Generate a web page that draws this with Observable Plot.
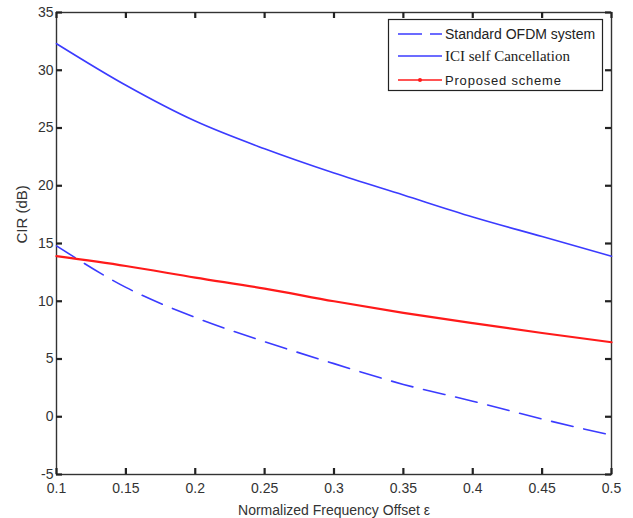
<!DOCTYPE html>
<html>
<head>
<meta charset="utf-8">
<script src="https://cdn.jsdelivr.net/npm/d3@7"></script>
<script src="https://cdn.jsdelivr.net/npm/@observablehq/plot@0.6"></script>
<style>
  body { margin: 0; background: #fff; }
  #wrap { position: relative; width: 633px; height: 518px; }
  #legend { position: absolute; left: 0; top: 0; }
</style>
</head>
<body>
<div id="wrap"></div>
<script>
// Data
const offsets = [0.1, 0.15, 0.2, 0.25, 0.3, 0.35, 0.4, 0.45, 0.5];
const standardOFDM = [14.8, 11.2, 8.6, 6.5, 4.6, 2.8, 1.35, -0.2, -1.6];
const iciSelfCancel = [32.3, 28.7, 25.6, 23.2, 21.1, 19.2, 17.3, 15.6, 13.9];
const proposed = [13.9, 13.05, 12.05, 11.1, 10.0, 9.0, 8.1, 7.25, 6.45];

const seriesNames = ["Standard OFDM system", "ICI self Cancellation", "Proposed scheme"];
const xTicks = [0.1, 0.15, 0.2, 0.25, 0.3, 0.35, 0.4, 0.45, 0.5];
const yTicks = [-5, 0, 5, 10, 15, 20, 25, 30, 35];
const xTickLabels = ["0.1", "0.15", "0.2", "0.25", "0.3", "0.35", "0.4", "0.45", "0.5"];
const xLabel = "Normalized Frequency Offset ε";
const yLabel = "CIR (dB)";

const blue = "#3b3bff";
const red = "#ff1a1a";

const rows = (ys) => offsets.map((x, i) => ({x, y: ys[i]}));

const font = "'Liberation Sans', Arial, sans-serif";

const W = 633, H = 518, mL = 56, mR = 22, mT = 12, mB = 44, tick = 6;
const frameW = W - mL - mR, frameH = H - mT - mB;
const tickMark = {stroke: "#222", strokeWidth: 2.2};

const chart = Plot.plot({
  width: W,
  height: H,
  marginLeft: mL,
  marginRight: mR,
  marginTop: mT,
  marginBottom: mB,
  style: {fontFamily: font, fontSize: "14px", color: "#333", background: "#fff"},
  x: {domain: [0.1, 0.5]},
  y: {domain: [-5, 35]},
  marks: [
    Plot.frame({stroke: "#333", strokeWidth: 1.4}),
    Plot.line(rows(standardOFDM), {x: "x", y: "y", stroke: blue, strokeWidth: 1.6, strokeDasharray: "22,11", curve: "monotone-x"}),
    Plot.line(rows(iciSelfCancel), {x: "x", y: "y", stroke: blue, strokeWidth: 1.6, curve: "monotone-x"}),
    Plot.line(rows(proposed), {x: "x", y: "y", stroke: red, strokeWidth: 2.2, curve: "monotone-x"}),
    // tick labels
    Plot.axisX({anchor: "bottom", ticks: xTicks, tickSize: 0, tickPadding: 9, tickFormat: (d, i) => xTickLabels[i], label: null, fontSize: 14}),
    Plot.axisY({anchor: "left", ticks: yTicks, tickSize: 0, tickPadding: 3, tickFormat: d => String(d), label: null, fontSize: 14}),
    // inward ticks on all four sides
    Plot.ruleX(xTicks, {x: d => d, insetTop: frameH - tick, ...tickMark}),
    Plot.ruleX(xTicks, {x: d => d, insetBottom: frameH - tick, ...tickMark}),
    Plot.ruleY(yTicks, {y: d => d, insetRight: frameW - tick, ...tickMark}),
    Plot.ruleY(yTicks, {y: d => d, insetLeft: frameW - tick, ...tickMark}),
    Plot.text([xLabel], {frameAnchor: "bottom", dy: 36, fontSize: 14, fill: "#333", lineAnchor: "middle"}),
    Plot.text([yLabel], {frameAnchor: "left", dx: -34, rotate: -90, fontSize: 15, fill: "#333", lineAnchor: "middle"})
  ]
});

const wrap = document.getElementById("wrap");
wrap.appendChild(chart);

// Legend (overlay box inside the plot area)
const ns = "http://www.w3.org/2000/svg";
const leg = document.createElementNS(ns, "svg");
leg.setAttribute("id", "legend");
leg.setAttribute("width", W);
leg.setAttribute("height", H);
const legendItems = [
  {name: seriesNames[0], stroke: blue, dash: "24,8", width: 1.6, dot: false, y: 34, family: font, size: 14, spacing: 0},
  {name: seriesNames[1], stroke: blue, dash: null, width: 1.6, dot: false, y: 56, family: "'Liberation Serif', 'Times New Roman', serif", size: 15, spacing: 0},
  {name: seriesNames[2], stroke: red, dash: null, width: 1.6, dot: true, y: 80, family: font, size: 13, spacing: 0.8}
];
const box = document.createElementNS(ns, "rect");
box.setAttribute("x", 388.5); box.setAttribute("y", 19.5);
box.setAttribute("width", 214); box.setAttribute("height", 71);
box.setAttribute("fill", "#fff"); box.setAttribute("stroke", "#222"); box.setAttribute("stroke-width", 1.2);
leg.appendChild(box);
for (const it of legendItems) {
  const l = document.createElementNS(ns, "line");
  l.setAttribute("x1", 398); l.setAttribute("x2", 442);
  l.setAttribute("y1", it.y); l.setAttribute("y2", it.y);
  l.setAttribute("stroke", it.stroke); l.setAttribute("stroke-width", it.width);
  if (it.dash) l.setAttribute("stroke-dasharray", it.dash);
  leg.appendChild(l);
  if (it.dot) {
    const c = document.createElementNS(ns, "circle");
    c.setAttribute("cx", 420); c.setAttribute("cy", it.y); c.setAttribute("r", 2);
    c.setAttribute("fill", it.stroke);
    leg.appendChild(c);
  }
  const t = document.createElementNS(ns, "text");
  t.setAttribute("x", 445); t.setAttribute("y", it.y);
  t.setAttribute("dominant-baseline", "central");
  t.setAttribute("font-family", it.family);
  t.setAttribute("font-size", it.size);
  t.setAttribute("letter-spacing", it.spacing);
  t.setAttribute("fill", "#222");
  t.textContent = it.name;
  leg.appendChild(t);
}
wrap.appendChild(leg);
</script>
</body>
</html>
